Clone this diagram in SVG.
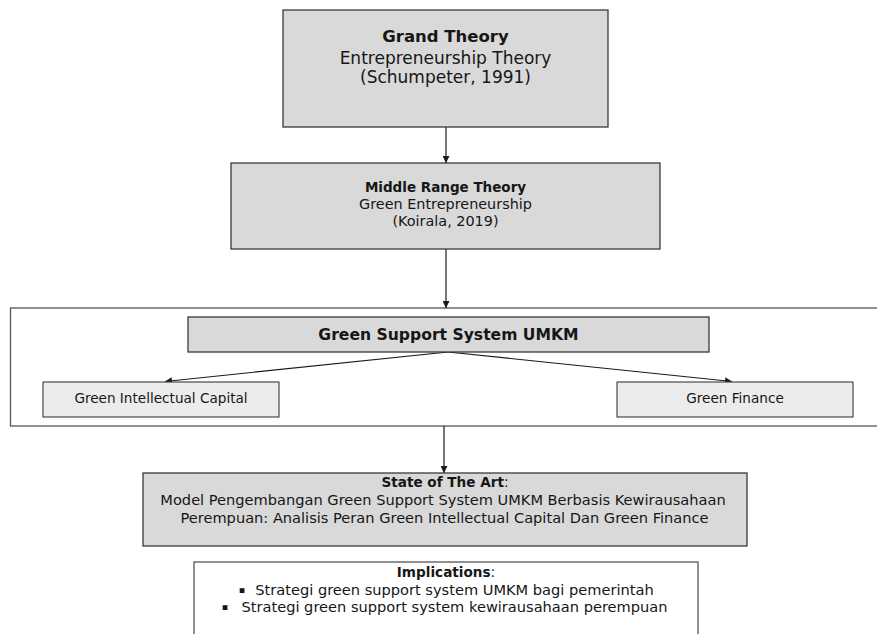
<svg xmlns="http://www.w3.org/2000/svg" width="877" height="634" viewBox="0 0 877 634">
<style>
text{font-family:"DejaVu Sans","Liberation Sans",sans-serif;fill:#161616;text-anchor:middle}
.b{font-weight:bold}
.box{fill:#d9d9d9;stroke:#3a3a3a;stroke-width:1.3}
.lt{fill:#ececec;stroke:#3a3a3a;stroke-width:1.1}
.wb{fill:#ffffff;stroke:#555555;stroke-width:1.3}
.cn{stroke:#1a1a1a;stroke-width:1.2;fill:none;marker-end:url(#ah)}
</style>
<defs>
<marker id="ah" viewBox="0 0 10 10" refX="10" refY="5" markerWidth="7" markerHeight="7" markerUnits="userSpaceOnUse" orient="auto">
<path d="M0,0 L10,5 L0,10 Z" fill="#1a1a1a"/>
</marker>
</defs>
<rect x="0" y="0" width="877" height="634" fill="#ffffff"/>
<g id="container">
<rect class="wb" x="10.5" y="308" width="880" height="118"/>
</g>
<g id="connectors">
<line class="cn" x1="446" y1="127" x2="446" y2="163"/>
<line class="cn" x1="446" y1="249" x2="446" y2="308"/>
<line class="cn" x1="448" y1="352" x2="165" y2="381.5"/>
<line class="cn" x1="448" y1="352" x2="732" y2="381.5"/>
<line class="cn" x1="444" y1="426" x2="444" y2="473"/>
</g>
<g id="grand-theory">
<rect class="box" x="283" y="10" width="325" height="117"/>
<text class="b" x="445.5" y="42" font-size="16.5">Grand Theory</text>
<text x="445.5" y="64" font-size="17">Entrepreneurship Theory</text>
<text x="445.5" y="83" font-size="17">(Schumpeter, 1991)</text>
</g>
<g id="middle-range-theory">
<rect class="box" x="231" y="163" width="429" height="86"/>
<text class="b" x="445.5" y="192" font-size="13.5">Middle Range Theory</text>
<text x="445.5" y="209" font-size="14.4">Green Entrepreneurship</text>
<text x="445.5" y="226" font-size="14.4">(Koirala, 2019)</text>
</g>
<g id="green-support-system">
<rect class="box" x="188" y="317" width="521" height="35"/>
<text class="b" x="448.5" y="339.5" font-size="15.6">Green Support System UMKM</text>
</g>
<g id="green-intellectual-capital">
<rect class="lt" x="43" y="382" width="236" height="35"/>
<text x="161" y="402.5" font-size="13.6">Green Intellectual Capital</text>
</g>
<g id="green-finance">
<rect class="lt" x="617" y="382" width="236" height="35"/>
<text x="735" y="402.5" font-size="13.6">Green Finance</text>
</g>
<g id="state-of-the-art">
<rect class="box" x="143" y="473" width="604" height="73"/>
<text x="445" y="486.5" font-size="13.6"><tspan class="b">State of The Art</tspan>:</text>
<text x="443" y="504.5" font-size="14.6">Model Pengembangan Green Support System UMKM Berbasis Kewirausahaan</text>
<text x="444.5" y="522.5" font-size="14.6">Perempuan: Analisis Peran Green Intellectual Capital Dan Green Finance</text>
</g>
<g id="implications">
<rect class="wb" x="194" y="562" width="504" height="90"/>
<text x="446" y="576.5" font-size="13.6"><tspan class="b">Implications</tspan>:</text>
<text x="242" y="593" font-size="9.5">▪</text>
<text x="454.5" y="594.5" font-size="14.6">Strategi green support system UMKM bagi pemerintah</text>
<text x="225" y="610" font-size="9.5">▪</text>
<text x="454.5" y="611.5" font-size="14.6">Strategi green support system kewirausahaan perempuan</text>
</g>
</svg>
